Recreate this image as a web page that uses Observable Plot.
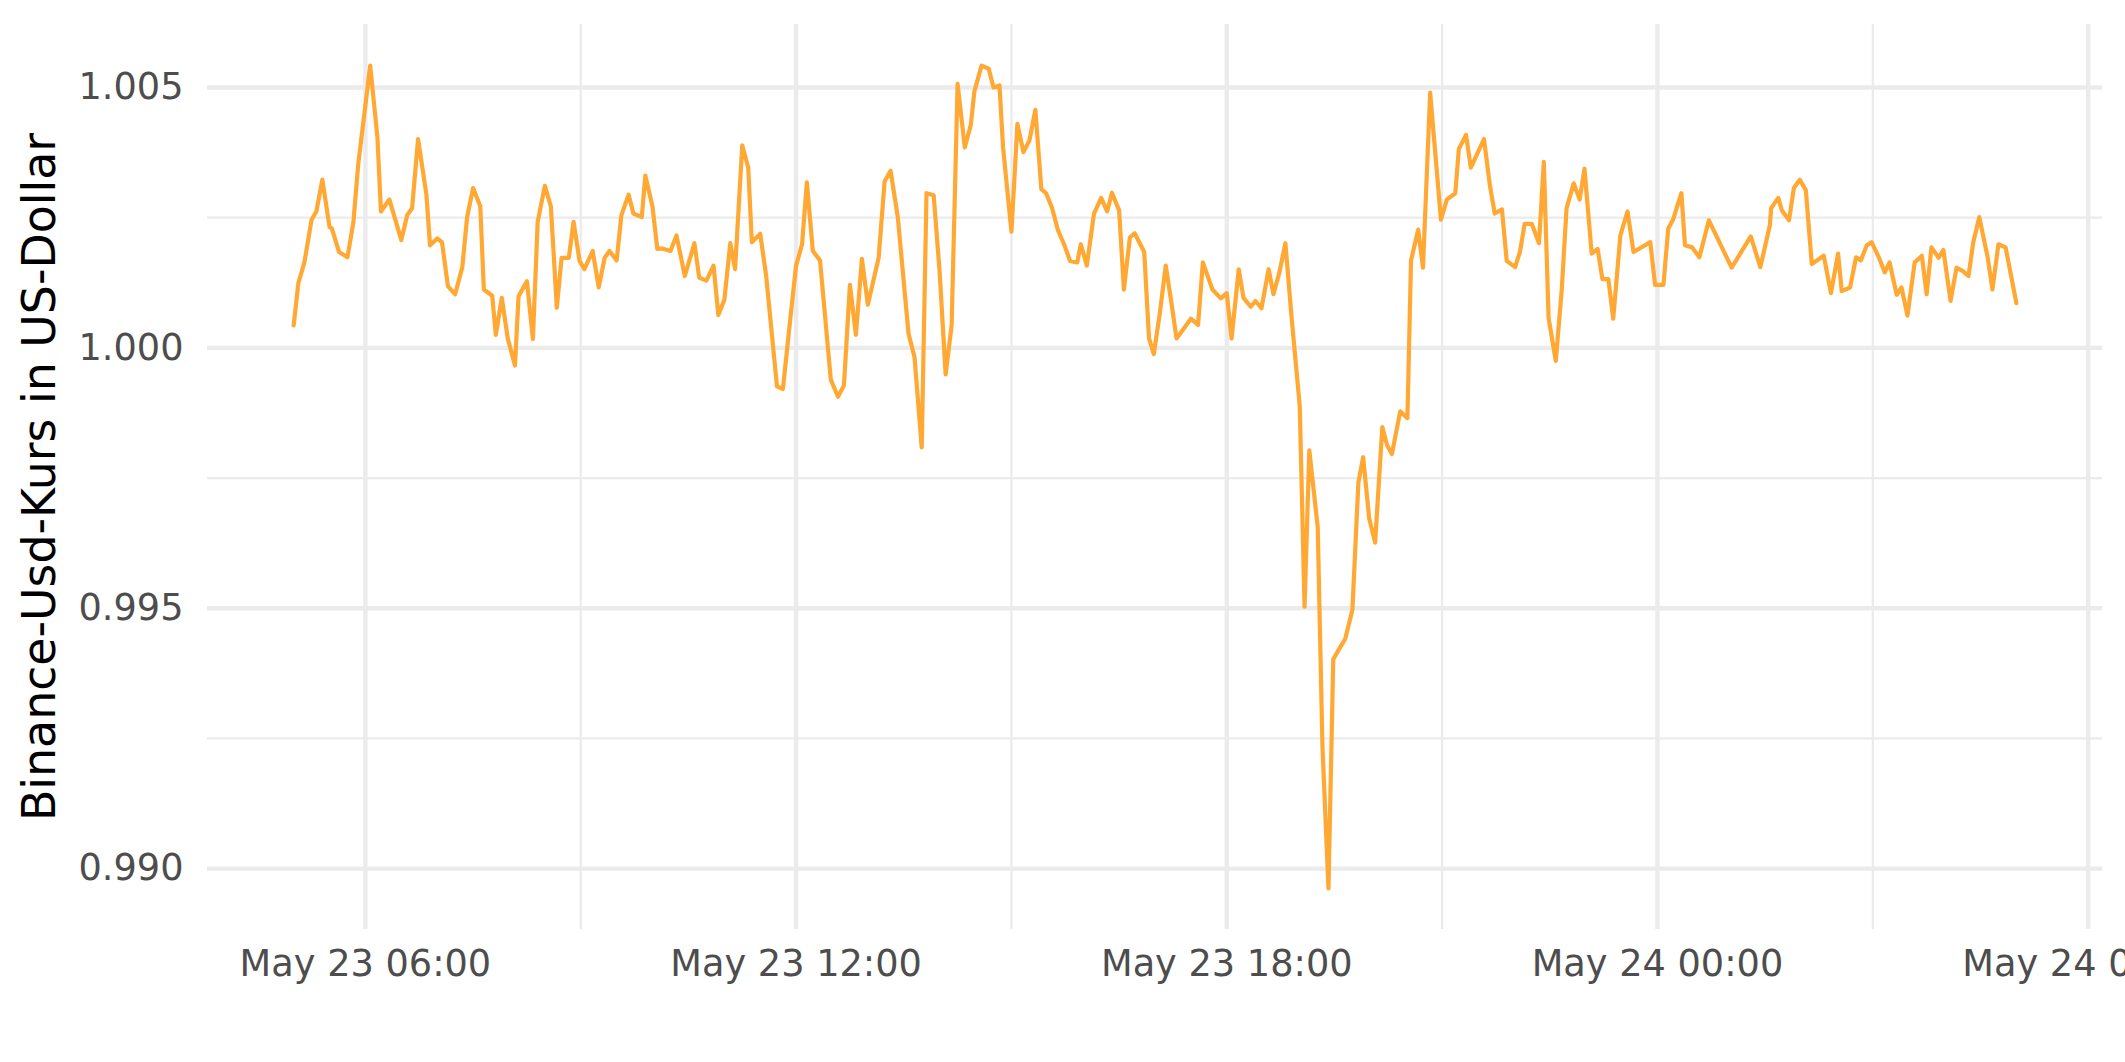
<!DOCTYPE html>
<html><head><meta charset="utf-8">
<script src="https://cdn.jsdelivr.net/npm/d3@7"></script>
<script src="https://cdn.jsdelivr.net/npm/@observablehq/plot@0.6"></script>
<style>body{margin:0;background:#fff}</style>
</head><body><div id="chart"></div>
<script>
const startTime = "2022-05-23T05:00:00Z";
const minutes = [0,4,9,15,19,24,30,32,38,45,50,54,64,70,73,80,90,95,99,104,111,114,120,124,129,135,141,145,150,156,159,166,169,174,179,185,188,195,200,204,210,215,220,224,230,234,239,243,250,255,260,264,270,274,280,284,291,294,300,304,308,315,320,327,335,339,345,351,355,360,365,369,375,380,383,390,395,404,409,415,420,425,429,434,440,449,455,460,465,470,475,480,489,494,499,505,514,519,525,529,535,540,545,550,555,561,566,569,575,581,585,590,593,600,605,610,615,620,625,629,634,639,644,649,655,658,663,669,675,680,684,690,694,699,703,711,715,719,724,729,734,738,750,756,760,768,775,780,784,790,794,800,804,809,815,819,824,829,834,841,845,849,856,860,865,869,874,879,885,890,894,899,904,910,914,918,925,931,934,940,944,950,959,964,971,974,980,984,995,1000,1004,1010,1014,1021,1025,1029,1035,1041,1045,1049,1055,1060,1064,1070,1075,1079,1085,1090,1094,1099,1103,1109,1115,1120,1134,1138,1145,1149,1153,1160,1163,1169,1175,1183,1202,1218,1226,1234,1235,1241,1244,1250,1254,1259,1264,1269,1279,1285,1291,1294,1301,1306,1310,1315,1319,1325,1330,1334,1340,1344,1349,1355,1361,1365,1369,1375,1379,1385,1390,1395,1400,1404,1409,1416,1420,1425,1431,1440];
const values = [1.00043,1.00125,1.00164,1.00246,1.00262,1.00323,1.00232,1.00229,1.00184,1.00174,1.00242,1.00353,1.00542,1.00405,1.00262,1.00285,1.00207,1.00255,1.00268,1.00401,1.00294,1.00197,1.00210,1.00203,1.00118,1.00103,1.00155,1.00251,1.00307,1.00272,1.00112,1.00100,1.00025,1.00096,1.00018,0.99966,1.00099,1.00128,1.00017,1.00242,1.00311,1.00272,1.00077,1.00173,1.00173,1.00242,1.00167,1.00151,1.00186,1.00116,1.00173,1.00186,1.00168,1.00255,1.00294,1.00258,1.00251,1.00331,1.00271,1.00190,1.00191,1.00186,1.00216,1.00138,1.00201,1.00135,1.00129,1.00158,1.00063,1.00092,1.00201,1.00151,1.00389,1.00346,1.00203,1.00219,1.00138,0.99926,0.99921,1.00053,1.00158,1.00199,1.00318,1.00186,1.00168,0.99939,0.99906,0.99928,1.00121,1.00025,1.00171,1.00083,1.00173,1.00320,1.00340,1.00251,1.00027,0.99982,0.99809,1.00297,1.00293,1.00145,0.99949,1.00043,1.00507,1.00385,1.00428,1.00492,1.00542,1.00536,1.00500,1.00504,1.00385,1.00223,1.00430,1.00376,1.00398,1.00457,1.00305,1.00297,1.00268,1.00225,1.00199,1.00167,1.00164,1.00199,1.00158,1.00258,1.00288,1.00262,1.00298,1.00264,1.00112,1.00212,1.00220,1.00184,1.00018,0.99988,1.00066,1.00158,1.00082,1.00018,1.00056,1.00044,1.00164,1.00112,1.00095,1.00105,1.00018,1.00151,1.00096,1.00079,1.00090,1.00076,1.00151,1.00103,1.00145,1.00201,1.00063,0.99888,0.99503,0.99803,0.99656,0.99233,0.98962,0.99402,0.99422,0.99441,0.99497,0.99741,0.99790,0.99673,0.99626,0.99848,0.99813,0.99796,0.99878,0.99865,1.00168,1.00227,1.00154,1.00490,1.00246,1.00285,1.00297,1.00382,1.00409,1.00346,1.00401,1.00311,1.00258,1.00266,1.00167,1.00155,1.00184,1.00238,1.00238,1.00201,1.00357,1.00057,0.99975,1.00112,1.00268,1.00316,1.00285,1.00344,1.00181,1.00190,1.00132,1.00132,1.00056,1.00216,1.00262,1.00184,1.00203,1.00121,1.00121,1.00229,1.00246,1.00297,1.00197,1.00193,1.00174,1.00245,1.00154,1.00214,1.00155,1.00236,1.00268,1.00288,1.00264,1.00245,1.00307,1.00323,1.00303,1.00161,1.00177,1.00105,1.00181,1.00109,1.00116,1.00174,1.00168,1.00197,1.00203,1.00174,1.00145,1.00164,1.00102,1.00116,1.00062,1.00164,1.00177,1.00103,1.00193,1.00173,1.00188,1.00090,1.00154,1.00148,1.00138,1.00203,1.00251,1.00174,1.00112,1.00199,1.00193,1.00086];
const yMajor = [0.990, 0.995, 1.000, 1.005];
const yMinor = [0.9925, 0.9975, 1.0025];
const xMajor = ["2022-05-23T06:00:00Z","2022-05-23T12:00:00Z","2022-05-23T18:00:00Z","2022-05-24T00:00:00Z","2022-05-24T06:00:00Z"];
const xMinor = ["2022-05-23T09:00:00Z","2022-05-23T15:00:00Z","2022-05-23T21:00:00Z","2022-05-24T03:00:00Z"];
const yLabel = "Binance-Usd-Kurs in US-Dollar";

const t0 = new Date(startTime);
const data = minutes.map((m, i) => ({time: new Date(+t0 + m * 60000), value: values[i]}));
const xMajorD = xMajor.map(d => new Date(d));
const xMinorD = xMinor.map(d => new Date(d));
const fmt = d3.utcFormat("%b %d %H:%M");
const span = d3.extent(data, d => +d.time);
const padX = (span[1] - span[0]) * 0.05;
const vext = d3.extent(values);
const padY = (vext[1] - vext[0]) * 0.05;
const grid = "#EBEBEB";

const chart = Plot.plot({
  width: 2125, height: 1062,
  marginLeft: 207, marginRight: 23, marginTop: 24, marginBottom: 133,
  style: {fontFamily: "DejaVu Sans", fontSize: "36.7px", background: "#fff", overflow: "visible"},
  x: {type: "utc", domain: [new Date(span[0] - padX), new Date(span[1] + padX)]},
  y: {domain: [vext[0] - padY, vext[1] + padY]},
  marks: [
    Plot.gridY(yMinor, {stroke: grid, strokeOpacity: 1, strokeWidth: 2.2}),
    Plot.gridX(xMinorD, {stroke: grid, strokeOpacity: 1, strokeWidth: 2.2}),
    Plot.gridY(yMajor, {stroke: grid, strokeOpacity: 1, strokeWidth: 4.4}),
    Plot.gridX(xMajorD, {stroke: grid, strokeOpacity: 1, strokeWidth: 4.4}),
    Plot.axisY(yMajor, {tickSize: 0, tickPadding: 24, tickFormat: d3.format(".3f"), label: null, color: "#4D4D4D"}),
    Plot.axisX(xMajorD, {tickSize: 0, tickPadding: 20, tickFormat: fmt, label: null, color: "#4D4D4D"}),
    Plot.line(data, {x: "time", y: "value", stroke: "#FFA834", strokeWidth: 4.2}),
    Plot.text([yLabel], {text: d => d, frameAnchor: "left", textAnchor: "middle", rotate: -90, dx: -167, fontSize: 45.8, fill: "#000"})
  ]
});
document.getElementById("chart").appendChild(chart);
</script>
</body></html>
